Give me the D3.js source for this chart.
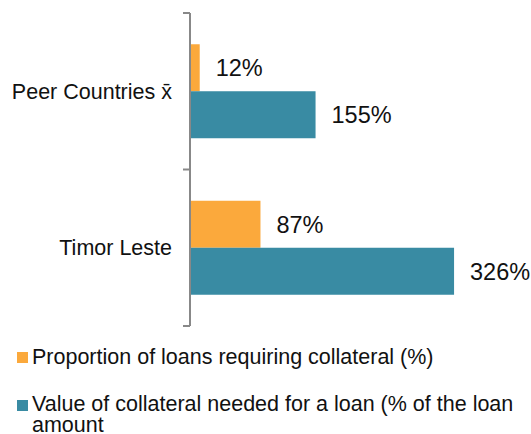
<!DOCTYPE html>
<html>
<head>
<meta charset="utf-8">
<script src="https://cdn.jsdelivr.net/npm/d3@7"></script>
<style>
  html, body { margin: 0; padding: 0; background: #fff; }
  svg { display: block; }
  text { font-family: "Liberation Sans", Arial, sans-serif; fill: #111; }
</style>
</head>
<body>
<svg id="chart" width="531" height="434"></svg>
<script>
const categories = ["Peer Countries x\u0304", "Timor Leste"];
const seriesNames = ["Proportion of loans requiring collateral (%)", "Value of collateral needed for a loan (% of the loan amount"];
const proportionValues = [12, 87];
const collateralValues = [155, 326];
const valueLabels = [["12%", "87%"], ["155%", "326%"]];
const colors = ["#FBA93C", "#398BA3"];

const svg = d3.select("#chart");
const axisX = 190;
const x = d3.scaleLinear().domain([0, 350]).range([axisX, axisX + 350 * 0.81]);
const y = d3.scaleBand().domain(categories).range([13, 326]).paddingInner(0).paddingOuter(0);
const ySub = d3.scaleBand().domain([0, 1]).range([0, y.bandwidth()]).paddingOuter(0.665).paddingInner(0);

const series = [proportionValues, collateralValues];

series.forEach((vals, si) => {
  svg.append("g").selectAll("rect").data(categories).join("rect")
    .attr("x", axisX + 1)
    .attr("y", d => y(d) + ySub(si))
    .attr("width", (d, i) => x(vals[i]) - axisX - 1)
    .attr("height", ySub.bandwidth())
    .attr("fill", colors[si]);
  svg.append("g").selectAll("text").data(categories).join("text")
    .attr("x", (d, i) => x(vals[i]) + 16)
    .attr("y", d => y(d) + ySub(si) + ySub.bandwidth() / 2)
    .attr("dy", "0.36em")
    .attr("font-size", 23.5)
    .text((d, i) => valueLabels[si][i]);
});

// axis
const tickYs = [13, ...categories.map(c => y(c) + y.bandwidth())];
const axisG = svg.append("g").attr("stroke", "#888").attr("stroke-width", 2).attr("fill", "none");
axisG.append("line").attr("x1", axisX).attr("x2", axisX).attr("y1", 13).attr("y2", 326);
axisG.selectAll("line.tick").data(tickYs).join("line").attr("class", "tick")
  .attr("x1", 183).attr("x2", axisX).attr("y1", d => d).attr("y2", d => d);

svg.append("g").selectAll("text").data(categories).join("text")
  .attr("x", 172)
  .attr("y", d => y(d) + y.bandwidth() / 2)
  .attr("dy", "0.36em")
  .attr("text-anchor", "end")
  .attr("font-size", 21.5)
  .text(d => d);

// legend
const legend = svg.append("g");
const legendTops = [352, 400];
seriesNames.forEach((name, i) => {
  legend.append("rect").attr("x", 17).attr("y", legendTops[i]).attr("width", 11).attr("height", 11).attr("fill", colors[i]);
});
legend.append("text").attr("x", 32).attr("y", 364).attr("font-size", 21.5).text(seriesNames[0]);
const t2 = legend.append("text").attr("x", 32).attr("y", 411).attr("font-size", 21.5);
t2.append("tspan").attr("x", 32).text("Value of collateral needed for a loan (% of the loan");
t2.append("tspan").attr("x", 32).attr("dy", 21).text("amount");
</script>
</body>
</html>
